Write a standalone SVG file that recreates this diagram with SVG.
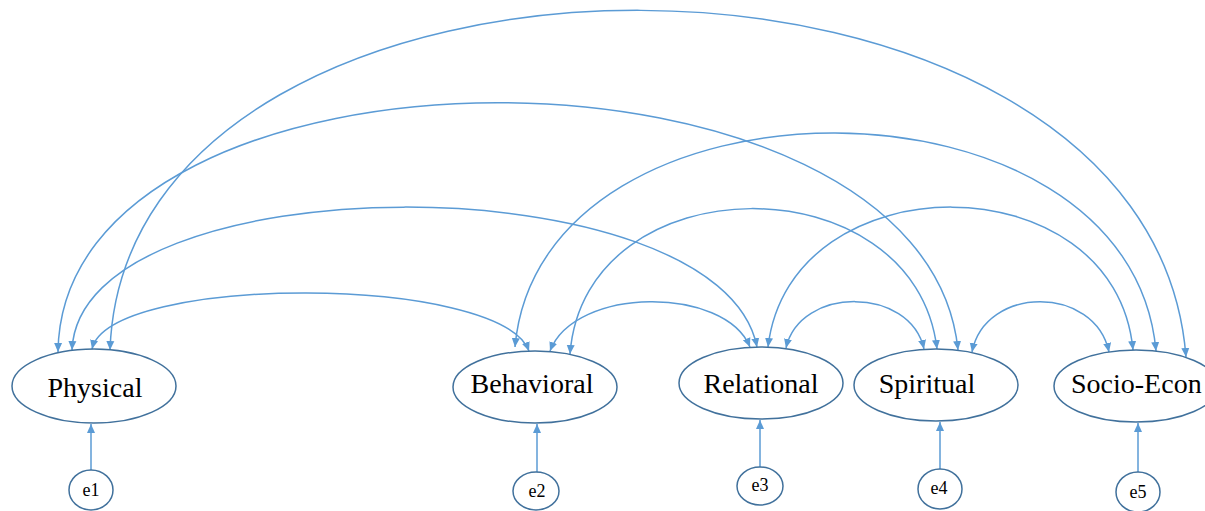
<svg xmlns="http://www.w3.org/2000/svg" width="1205" height="511" viewBox="0 0 1205 511">
<style>
.n{fill:#fff;stroke:#41719C;stroke-width:1.5}
.t{font-family:"Liberation Serif",serif;font-size:28px;fill:#000}
.te{font-family:"Liberation Serif",serif;font-size:18px;fill:#000;text-anchor:middle}
.c{fill:none;stroke:#5B9BD5;stroke-width:1.5;marker-start:url(#a);marker-end:url(#a)}
.s{fill:none;stroke:#5B9BD5;stroke-width:1.5;marker-end:url(#a)}
</style>
<defs>
<marker id="a" markerUnits="userSpaceOnUse" markerWidth="10" markerHeight="9" refX="9" refY="4" orient="auto-start-reverse" viewBox="0 0 10 8">
<path d="M0,0 L9,4 L0,8 z" fill="#5B9BD5"/>
</marker>
</defs>
<rect width="1205" height="511" fill="#fff"/>
<g id="connectors">
<path class="c" d="M110,350 C126,-104 1150,-104 1186,357"/>
<path class="c" d="M58,352 C62,20 925,20 958,350"/>
<path class="c" d="M72,350 C80,160 720,160 757,347"/>
<path class="c" d="M92,349 C110,274 500,274 529,351"/>
<path class="c" d="M515,347 C540,61 1130,61 1156,351"/>
<path class="c" d="M570,354 C585,161 915,161 937,349"/>
<path class="c" d="M550,351 C575,286 725,286 750,347"/>
<path class="c" d="M768,347 C790,160 1115,160 1133,350"/>
<path class="c" d="M786,348 C800,286 910,286 924,349"/>
<path class="c" d="M972,352 C985,285 1095,285 1109,352"/>
<path class="s" d="M91,470 L91,424"/>
<path class="s" d="M537,473 L537,424"/>
<path class="s" d="M760,467 L760,420"/>
<path class="s" d="M940,469 L940,422"/>
<path class="s" d="M1138,472 L1138,423"/>
</g>
<g id="physical"><ellipse class="n" cx="94" cy="386" rx="82" ry="37"/><text class="t" x="95" y="397" text-anchor="middle">Physical</text></g>
<g id="behavioral"><ellipse class="n" cx="535" cy="387" rx="82" ry="36"/><text class="t" x="532" y="393" text-anchor="middle">Behavioral</text></g>
<g id="relational"><ellipse class="n" cx="761" cy="383" rx="82" ry="36"/><text class="t" x="761" y="393" text-anchor="middle">Relational</text></g>
<g id="spiritual"><ellipse class="n" cx="936" cy="385" rx="82" ry="36"/><text class="t" x="927" y="393" text-anchor="middle">Spiritual</text></g>
<g id="socio"><ellipse class="n" cx="1136" cy="386" rx="82" ry="36"/><text class="t" x="1071" y="393">Socio-Econ</text></g>
<g id="e1"><ellipse class="n" cx="91" cy="490" rx="22" ry="20"/><text class="te" x="91" y="496">e1</text></g>
<g id="e2"><ellipse class="n" cx="536" cy="491" rx="23" ry="19"/><text class="te" x="537" y="497">e2</text></g>
<g id="e3"><ellipse class="n" cx="760" cy="486" rx="23" ry="19"/><text class="te" x="760" y="491">e3</text></g>
<g id="e4"><ellipse class="n" cx="940" cy="489" rx="22" ry="20"/><text class="te" x="939" y="494">e4</text></g>
<g id="e5"><ellipse class="n" cx="1138" cy="492" rx="22" ry="20"/><text class="te" x="1138" y="498">e5</text></g>
</svg>
